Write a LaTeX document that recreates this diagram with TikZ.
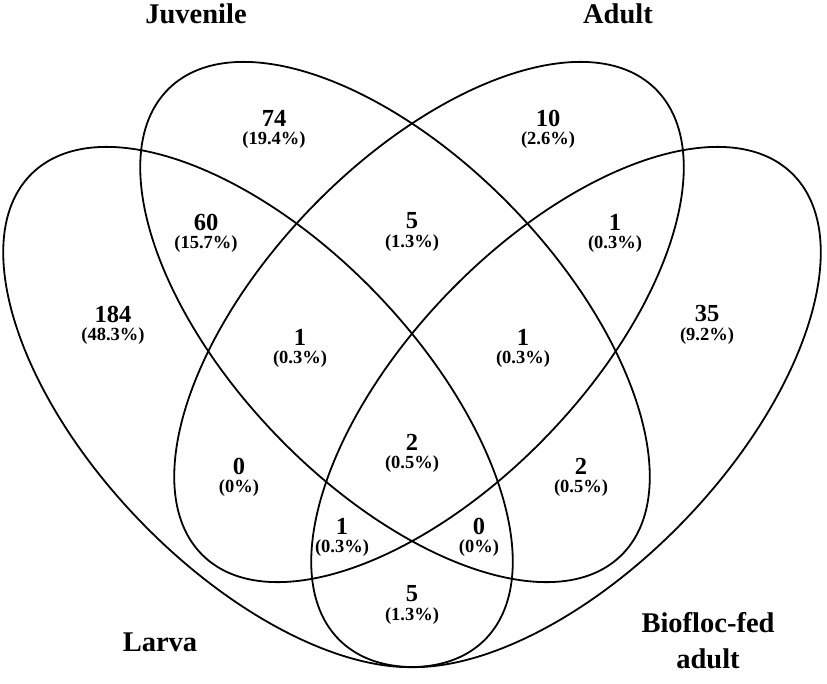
\documentclass[tikz,border=0pt]{standalone}
\usepackage{fontspec}
\setmainfont{Liberation Serif}
\tikzset{
  ring/.style={line width=1.8pt},
  setname/.style={inner sep=0pt,font=\bfseries\fontsize{28.5}{36}\selectfont},
  tally/.style={inner sep=0pt,font=\bfseries\fontsize{24.5}{26}\selectfont},
  pct/.style={inner sep=0pt,font=\bfseries\fontsize{18.5}{20}\selectfont}
}
\begin{document}
\begin{tikzpicture}[x=1pt,y=-1pt]
\def\ea{325pt}  % semi-major axis
\def\eb{164pt}  % semi-minor axis
\def\tilt{46}   % tilt of the long axis
% count #4 and share #5 of one region, count centred at (#2,#3)
\newcommand{\venncount}[5]{%
  \node[tally] (#1) at (#2,#3) {#4};
  \node[pct] (#1-p) at (#2,{#3+22}) {#5};
}
\useasboundingbox (0,0) rectangle (827,683);
% centres of the four sets
\coordinate (Lc) at (258,407);
\coordinate (Jc) at (395,322);
\coordinate (Ac) at (429,322);
\coordinate (Bc) at (566,407);
\draw[ring,rotate around={-\tilt:(Lc)}] (Lc) ellipse [x radius=\ea, y radius=\eb];
\draw[ring,rotate around={-\tilt:(Jc)}] (Jc) ellipse [x radius=\ea, y radius=\eb];
\draw[ring,rotate around={\tilt:(Ac)}] (Ac) ellipse [x radius=\ea, y radius=\eb];
\draw[ring,rotate around={\tilt:(Bc)}] (Bc) ellipse [x radius=\ea, y radius=\eb];
% set names
\node[setname] (tJuv) at (196,14) {Juvenile};
\node[setname] (tAdu) at (618,14) {Adult};
\node[setname] (tLar) at (160,642) {Larva};
\node[setname,align=center] (tBio) at (708,641) {Biofloc-fed\\adult};
% one set only
\venncount{lar}{113}{314}{184}{(48.3\%)}
\venncount{juv}{274}{118}{74}{(19.4\%)}
\venncount{adu}{548}{118}{10}{(2.6\%)}
\venncount{bio}{707}{314}{35}{(9.2\%)}
% two sets
\venncount{lj}{206}{222}{60}{(15.7\%)}
\venncount{ja}{412}{221}{5}{(1.3\%)}
\venncount{ab}{615}{222}{1}{(0.3\%)}
\venncount{la}{239}{466}{0}{(0\%)}
\venncount{jb}{581}{466}{2}{(0.5\%)}
\venncount{lb}{412}{594}{5}{(1.3\%)}
% three and four sets
\venncount{lja}{300}{337}{1}{(0.3\%)}
\venncount{jab}{523}{337}{1}{(0.3\%)}
\venncount{lab}{342}{526}{1}{(0.3\%)}
\venncount{ljb}{479}{526}{0}{(0\%)}
\venncount{ljab}{412}{442}{2}{(0.5\%)}
\end{tikzpicture}
\end{document}
